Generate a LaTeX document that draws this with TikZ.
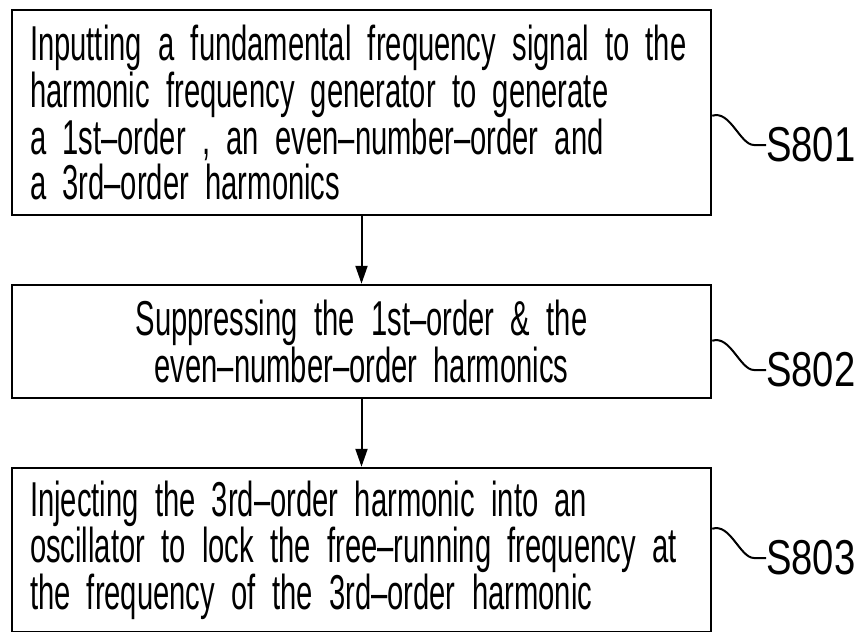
\documentclass[tikz,border=0pt]{standalone}
\usepackage{fontspec}
\setmainfont[FakeStretch=0.596,WordSpace=2.8]{Liberation Sans}
\newfontfamily\labfont[FakeStretch=0.78]{Liberation Sans}
\usetikzlibrary{arrows.meta,calc}
\begin{document}
\begin{tikzpicture}[x=1pt,y=-1pt,
  stepbox/.style={draw, line width=2.5pt, rectangle, minimum width=699pt,
    text width=663pt, inner xsep=18pt, inner ysep=0pt,
    font=\fontsize{49}{45}\selectfont},
  flow/.style={line width=2pt, -{Triangle[length=18pt,width=12pt]}},
  tilde/.style={line width=2pt},
  steplabel/.style={anchor=west, inner sep=0pt, font=\labfont\fontsize{49}{49}\selectfont}]
\useasboundingbox (0,0) rectangle (857,632);
\node[stepbox, minimum height=205pt, align=left] (b1) at (361.5,112.5)
  {Inputting a fundamental frequency signal to the\\
   harmonic frequency generator to generate\\
   a 1st–order , an even–number–order and\\
   a 3rd–order harmonics};
\node[stepbox, minimum height=113pt, align=center] (b2) at (361.5,341.5)
  {Suppressing the 1st–order \& the\\
   even–number–order harmonics};
\node[stepbox, minimum height=164.5pt, align=left] (b3) at (361.5,550.25)
  {Injecting the 3rd–order harmonic into an\\
   oscillator to lock the free–running frequency at\\
   the frequency of the 3rd–order harmonic};
\draw[flow] (b1.south) -- (b2.north);
\draw[flow] (b2.south) -- (b3.north);
\node[steplabel] (l1) at (766,145) {S801};
\node[steplabel] (l2) at (766,370) {S802};
\node[steplabel] (l3) at (766,558) {S803};
\coordinate (t1) at ($(b1.north east)+(0,107)$);
\coordinate (t2) at ($(b2.north east)+(0,57)$);
\coordinate (t3) at ($(b3.north east)+(0,62)$);
\draw[tilde] (t1) .. controls +(18,-6) and +(-14,0) .. ($(l1.west)+(-12,0)$) -- (l1.west);
\draw[tilde] (t2) .. controls +(18,-6) and +(-14,0) .. ($(l2.west)+(-12,0)$) -- (l2.west);
\draw[tilde] (t3) .. controls +(18,-6) and +(-14,0) .. ($(l3.west)+(-12,0)$) -- (l3.west);
\end{tikzpicture}
\end{document}
